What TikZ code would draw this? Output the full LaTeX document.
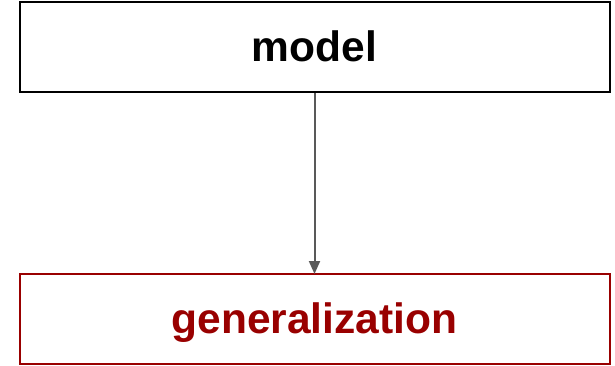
\documentclass[tikz,border=0pt]{standalone}
\usepackage{fontspec}
\setmainfont{Liberation Sans}
\usetikzlibrary{arrows.meta}
\definecolor{darkred}{HTML}{990000}
\definecolor{arrowgray}{HTML}{595959}
\begin{document}
\begin{tikzpicture}[x=1pt,y=-1pt,
  box/.style={draw, line width=2pt, minimum width=590pt, minimum height=90pt, inner sep=0pt,
    text height=30pt, text depth=2pt, font=\fontsize{42.5}{48}\selectfont\bfseries},
  link/.style={draw=arrowgray, line width=2pt, shorten >=-1pt, -{Triangle[length=13pt,width=11pt]}}]
\useasboundingbox (0,0) rectangle (615,365);
\node[box] (model) at (314.5,47) {model};
\node[box, draw=darkred, text=darkred] (gen) at (314.5,319) {generalization};
\draw[link] (model) -- (gen);
\end{tikzpicture}
\end{document}
